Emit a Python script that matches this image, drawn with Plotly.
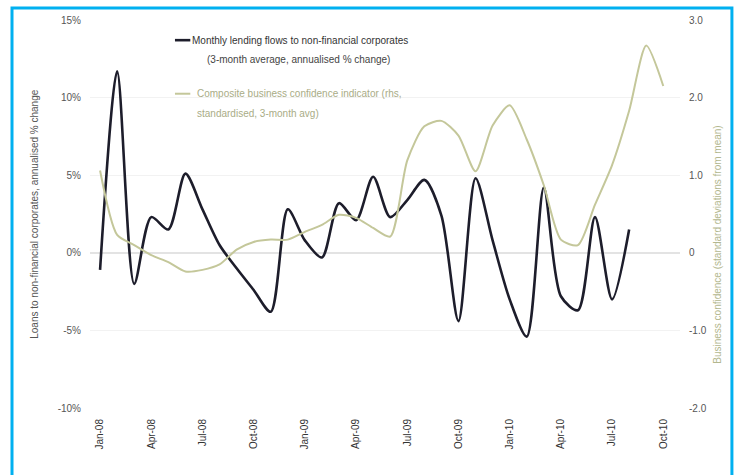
import plotly.graph_objects as go

# DATA

months = ["Jan-08", "Feb-08", "Mar-08", "Apr-08", "May-08", "Jun-08", "Jul-08", "Aug-08", "Sep-08",
          "Oct-08", "Nov-08", "Dec-08", "Jan-09", "Feb-09", "Mar-09", "Apr-09", "May-09", "Jun-09",
          "Jul-09", "Aug-09", "Sep-09", "Oct-09", "Nov-09", "Dec-09", "Jan-10", "Feb-10", "Mar-10",
          "Apr-10", "May-10", "Jun-10", "Jul-10", "Aug-10", "Sep-10", "Oct-10"]

lending = [-1.1, 11.7, -2.0, 2.3, 1.5, 5.1, 2.8, 0.5, -1.0, -2.4, -3.8, 2.8, 0.8, -0.3, 3.2, 2.1,
           4.9, 2.3, 3.4, 4.7, 2.4, -4.4, 4.8, 0.8, -3.0, -5.4, 4.2, -2.8, -3.7, 2.3, -3.0, 1.5]

confidence = [1.06, 0.23, 0.10, -0.03, -0.12, -0.24, -0.22, -0.15, 0.04, 0.14, 0.17, 0.17, 0.27,
              0.36, 0.49, 0.45, 0.32, 0.21, 1.19, 1.63, 1.70, 1.51, 1.05, 1.64, 1.90, 1.46, 0.87,
              0.17, 0.10, 0.62, 1.13, 1.83, 2.67, 2.15]

tick_months = months[::3]
left_ticks = [-10, -5, 0, 5, 10, 15]
left_labels = ["-10%", "-5%", "0%", "5%", "10%", "15%"]
right_ticks = [-2, -1, 0, 1, 2, 3]
right_labels = ["-2.0", "-1.0", "0", "1.0", "2.0", "3.0"]

black = "#1d1d2b"
olive = "#c4c79a"
grey_txt = "#555555"
font = "Liberation Sans"

fig = go.Figure()

fig.add_trace(go.Scatter(x=months, y=confidence, yaxis="y2", mode="lines",
                         line=dict(color=olive, width=2, shape="spline", smoothing=0.7),
                         showlegend=False))
fig.add_trace(go.Scatter(x=months[:len(lending)], y=lending, mode="lines",
                         line=dict(color=black, width=2.6, shape="spline", smoothing=0.8),
                         showlegend=False))

# hand made legend
fig.add_shape(type="line", xref="paper", yref="paper", x0=0.144, x1=0.17, y0=0.948, y1=0.948,
              line=dict(color=black, width=2.6))
fig.add_annotation(xref="paper", yref="paper", x=0.17, y=0.948, xanchor="left", yanchor="middle",
                   text="Monthly lending flows to non-financial corporates", showarrow=False,
                   font=dict(family=font, size=10, color="#333333"))
fig.add_annotation(xref="paper", yref="paper", x=0.195, y=0.897, xanchor="left", yanchor="middle",
                   text="(3-month average, annualised % change)", showarrow=False,
                   font=dict(family=font, size=10, color="#444444"))
fig.add_shape(type="line", xref="paper", yref="paper", x0=0.144, x1=0.17, y0=0.81, y1=0.81,
              line=dict(color=olive, width=2))
fig.add_annotation(xref="paper", yref="paper", x=0.178, y=0.81, xanchor="left", yanchor="middle",
                   text="Composite business confidence indicator (rhs,", showarrow=False,
                   font=dict(family=font, size=10, color="#a9ac86"))
fig.add_annotation(xref="paper", yref="paper", x=0.178, y=0.758, xanchor="left", yanchor="middle",
                   text="standardised, 3-month avg)", showarrow=False,
                   font=dict(family=font, size=10, color="#a9ac86"))

# axis titles
fig.add_annotation(xref="paper", yref="paper", x=-0.108, y=0.5, textangle=-90,
                   text="Loans to non-financial corporates, annualised % change",
                   showarrow=False, font=dict(family=font, size=10, color=grey_txt))
fig.add_annotation(xref="paper", yref="paper", x=1.075, y=0.42, textangle=-90,
                   text="Business confidence (standard deviations from mean)",
                   showarrow=False, font=dict(family=font, size=10, color="#b3b78e"))

# outer border
fig.add_shape(type="rect", xref="paper", yref="paper", x0=-0.1322, x1=1.088, y0=-0.25, y1=1.031,
              line=dict(color="#00b0f0", width=3))

fig.update_layout(
    width=736, height=475,
    margin=dict(l=90, r=56, t=20, b=67),
    paper_bgcolor="white", plot_bgcolor="white",
    font=dict(family=font, size=10, color=grey_txt),
    xaxis=dict(type="category", range=[-0.59, 33.98], tickmode="array", tickvals=tick_months,
               ticktext=tick_months, tickangle=-90, showgrid=False, showline=False,
               ticks="", ticklabelstandoff=8, automargin=False,
               tickfont=dict(size=10, color="#333333")),
    yaxis=dict(range=[-10, 15], tickvals=left_ticks, ticktext=left_labels, showgrid=True,
               gridcolor="#f2f2f2", zeroline=True, zerolinecolor="#e3e3e3", zerolinewidth=1.5,
               showline=False, ticks="", ticklabelstandoff=8, automargin=False),
    yaxis2=dict(range=[-2, 3], tickvals=right_ticks, ticktext=right_labels, overlaying="y",
                side="right", showgrid=False, zeroline=False, showline=False, ticks="",
                ticklabelstandoff=8, automargin=False),
)

# drop the default page margin so the figure sits at the window corner
fig.write_html("out.html", config={"displayModeBar": False},
               post_script="document.body.style.margin='0';")
